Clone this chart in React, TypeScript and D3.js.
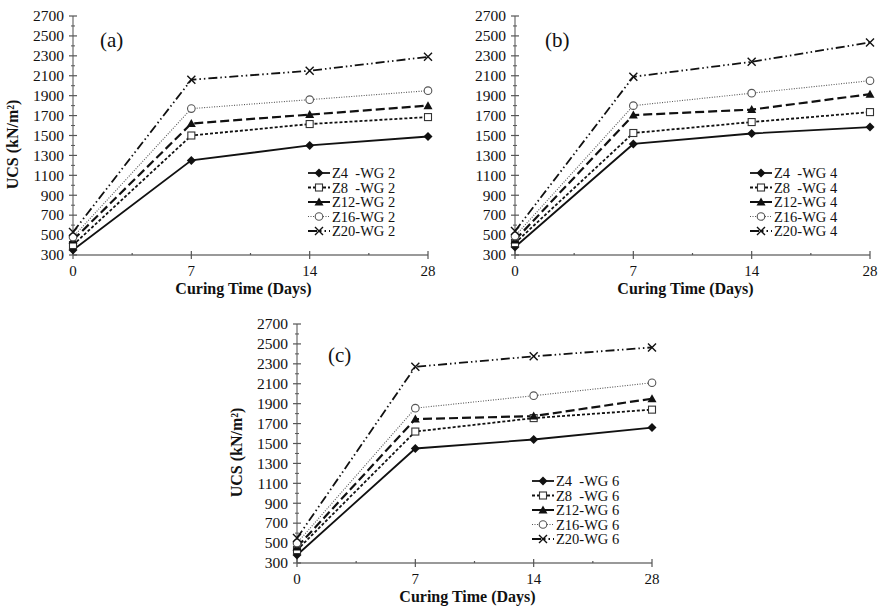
import React, { useRef, useEffect } from 'react';
import * as d3 from 'd3';

// curing days (categorical, equally spaced)
const days = ['0', '7', '14', '28'];
const mixLabels = ['Z4  -WG', 'Z8  -WG', 'Z12-WG', 'Z16-WG', 'Z20-WG'];
const yTickValues = [300, 500, 700, 900, 1100, 1300, 1500, 1700, 1900, 2100, 2300, 2500, 2700];
const yMinorValues = [400, 600, 800, 1000, 1200, 1400, 1600, 1800, 2000, 2200, 2400, 2600];

// UCS (kN/m2), one row per mix
const wg2Values = [
    [350, 1250, 1400, 1490],
    [400, 1500, 1615, 1685],
    [450, 1620, 1710, 1800],
    [480, 1770, 1860, 1950],
    [530, 2060, 2150, 2290],
];
const wg4Values = [
    [380, 1415, 1520, 1585],
    [420, 1525, 1635, 1735],
    [450, 1705, 1760, 1915],
    [490, 1800, 1925, 2050],
    [540, 2090, 2240, 2435],
];
const wg6Values = [
    [380, 1450, 1540, 1660],
    [430, 1620, 1755, 1840],
    [460, 1745, 1775, 1950],
    [500, 1855, 1980, 2110],
    [550, 2270, 2375, 2465],
];

const FONT = '"Liberation Serif", "Times New Roman", serif';
const INK = '#111';

const seriesStyles = [
    { dash: null, width: 1.8, color: INK, marker: 'diamond' },
    { dash: '3,2', width: 1.8, color: INK, marker: 'square' },
    { dash: '9,4', width: 2.2, color: INK, marker: 'triangle' },
    { dash: '1,1.5', width: 1.1, color: '#555', marker: 'circle' },
    { dash: '9,3,1.5,3,1.5,3', width: 1.8, color: INK, marker: 'x' },
];

const panels = [
    { tag: '(a)', wg: '2', values: wg2Values, left: 73, right: 428, top: 16, bottom: 255, yTitle: true, tagDx: 27, tagDy: 31 },
    { tag: '(b)', wg: '4', values: wg4Values, left: 515, right: 870, top: 16, bottom: 255, yTitle: false, tagDx: 30, tagDy: 31 },
    { tag: '(c)', wg: '6', values: wg6Values, left: 297, right: 652, top: 324, bottom: 563, yTitle: true, tagDx: 31, tagDy: 38 },
];

const drawMarker = (g, type, x, y, color) => {
    if (type === 'circle') {
        g.append('circle').attr('cx', x).attr('cy', y).attr('r', 3.8)
            .attr('fill', '#fff').attr('stroke', '#555').attr('stroke-width', 1.1);
    } else if (type === 'x') {
        g.append('path')
            .attr('d', `M${x - 4},${y - 4}L${x + 4},${y + 4}M${x - 4},${y + 4}L${x + 4},${y - 4}`)
            .attr('stroke', color).attr('stroke-width', 1.4).attr('fill', 'none');
    } else if (type === 'square') {
        g.append('rect').attr('x', x - 3.5).attr('y', y - 3.5).attr('width', 7).attr('height', 7)
            .attr('fill', '#fff').attr('stroke', '#333').attr('stroke-width', 1.1);
    } else if (type === 'triangle') {
        g.append('path')
            .attr('d', `M${x},${y - 4.5}L${x + 4.5},${y + 3.5}L${x - 4.5},${y + 3.5}Z`)
            .attr('fill', color);
    } else {
        g.append('path')
            .attr('d', `M${x},${y - 4.5}L${x + 4.5},${y}L${x},${y + 4.5}L${x - 4.5},${y}Z`)
            .attr('fill', color);
    }
};

const App = () => {
    const ref = useRef(null);

    useEffect(() => {
        const svg = d3.select(ref.current);
        svg.selectAll('*').remove();

        panels.forEach(p => {
            const g = svg.append('g');
            const x = d3.scalePoint().domain(days).range([p.left, p.right]);
            const y = d3.scaleLinear().domain([300, 2700]).range([p.bottom, p.top]);

            // --- axes ---
            const axisColor = '#777';
            g.append('line').attr('x1', p.left).attr('x2', p.left).attr('y1', p.top).attr('y2', p.bottom)
                .attr('stroke', axisColor).attr('stroke-width', 1.3);
            g.append('line').attr('x1', p.left).attr('x2', p.right).attr('y1', p.bottom).attr('y2', p.bottom)
                .attr('stroke', axisColor).attr('stroke-width', 1.3);

            g.selectAll('.ymaj').data(yTickValues).enter().append('line')
                .attr('x1', p.left - 4).attr('x2', p.left + 4)
                .attr('y1', d => y(d)).attr('y2', d => y(d))
                .attr('stroke', '#555').attr('stroke-width', 1.2);
            g.selectAll('.ymin').data(yMinorValues).enter().append('line')
                .attr('x1', p.left - 2).attr('x2', p.left + 2)
                .attr('y1', d => y(d)).attr('y2', d => y(d))
                .attr('stroke', '#555').attr('stroke-width', 1);
            g.selectAll('.ylab').data(yTickValues).enter().append('text')
                .attr('x', p.left - 9).attr('y', d => y(d)).attr('dy', '0.34em')
                .attr('text-anchor', 'end').attr('font-family', FONT).attr('font-size', 15.5)
                .attr('fill', INK).text(d => d);

            g.selectAll('.xmaj').data(days).enter().append('line')
                .attr('x1', d => x(d)).attr('x2', d => x(d))
                .attr('y1', p.bottom - 4).attr('y2', p.bottom + 4)
                .attr('stroke', '#555').attr('stroke-width', 1.2);
            g.selectAll('.xmin').data(days.slice(1)).enter().append('line')
                .attr('x1', (d, i) => (x(d) + x(days[i])) / 2).attr('x2', (d, i) => (x(d) + x(days[i])) / 2)
                .attr('y1', p.bottom - 2).attr('y2', p.bottom)
                .attr('stroke', '#555').attr('stroke-width', 1.2);
            g.selectAll('.xlab').data(days).enter().append('text')
                .attr('x', d => x(d)).attr('y', p.bottom + 21)
                .attr('text-anchor', 'middle').attr('font-family', FONT).attr('font-size', 15)
                .attr('fill', INK).text(d => d);

            g.append('text')
                .attr('x', (p.left + p.right) / 2 - 7).attr('y', p.bottom + 39)
                .attr('text-anchor', 'middle').attr('font-family', FONT).attr('font-size', 16)
                .attr('font-weight', 'bold').attr('fill', INK).text('Curing Time (Days)');

            if (p.yTitle) {
                const cy = (p.top + p.bottom) / 2 + 9;
                g.append('text')
                    .attr('transform', `translate(${p.left - 55},${cy}) rotate(-90)`)
                    .attr('text-anchor', 'middle').attr('font-family', FONT).attr('font-size', 16)
                    .attr('font-weight', 'bold').attr('fill', INK).text('UCS (kN/m²)');
            }

            g.append('text')
                .attr('x', p.left + p.tagDx).attr('y', p.top + p.tagDy)
                .attr('font-family', FONT).attr('font-size', 21).attr('fill', INK).text(p.tag);

            // --- series ---
            const line = d3.line().x((d, i) => x(days[i])).y(d => y(d));
            p.values.forEach((vals, s) => {
                const st = seriesStyles[s];
                g.append('path').datum(vals)
                    .attr('fill', 'none').attr('stroke', st.color).attr('stroke-width', st.width)
                    .attr('stroke-dasharray', st.dash).attr('d', line);
            });
            p.values.forEach((vals, s) => {
                const st = seriesStyles[s];
                vals.forEach((v, i) => drawMarker(g, st.marker, x(days[i]), y(v), st.color));
            });

            // --- legend ---
            const lx = p.left + 235;
            const ly = p.top + 157;
            mixLabels.forEach((name, s) => {
                const st = seriesStyles[s];
                const yy = ly + s * 14.5;
                g.append('line').attr('x1', lx).attr('x2', lx + 22).attr('y1', yy).attr('y2', yy)
                    .attr('stroke', st.color).attr('stroke-width', st.width).attr('stroke-dasharray', st.dash);
                drawMarker(g, st.marker, lx + 11, yy, st.color);
                g.append('text')
                    .attr('x', lx + 24).attr('y', yy).attr('dy', '0.35em')
                    .attr('font-family', FONT).attr('font-size', 14.5).attr('fill', INK)
                    .style('white-space', 'pre')
                    .text(`${name} ${p.wg}`);
            });
        });
    }, []);

    return (
        <svg ref={ref} width={881} height={610}
            style={{ position: 'absolute', left: 0, top: 0, background: '#fff' }} />
    );
};

export default App;
